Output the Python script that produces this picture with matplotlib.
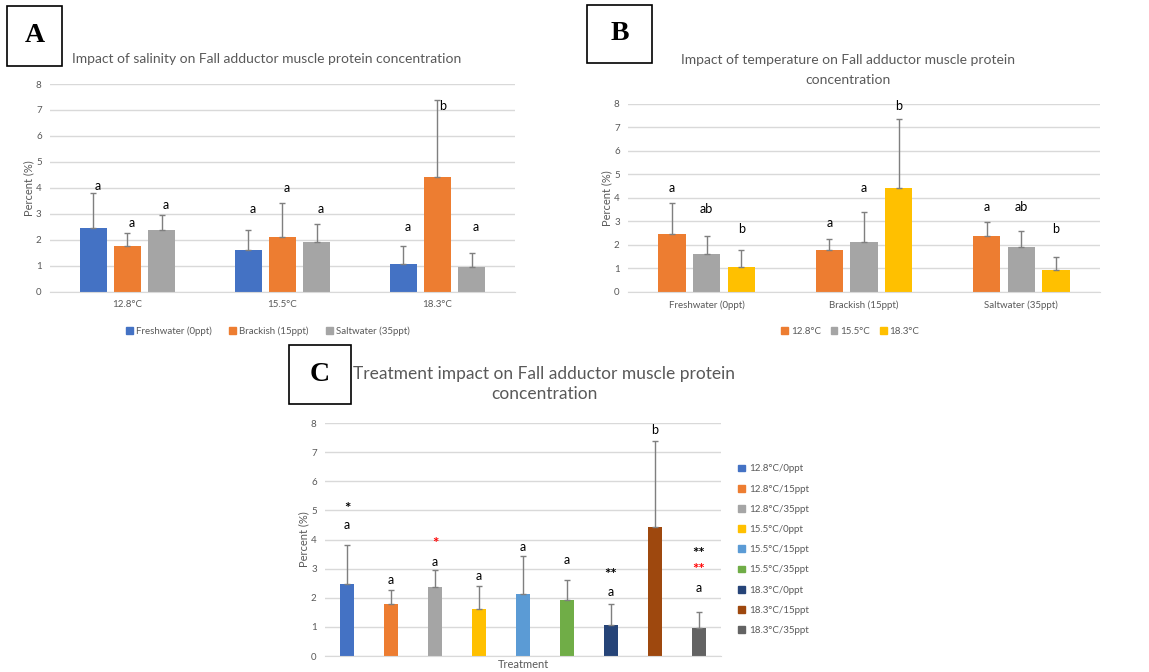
import matplotlib
matplotlib.use("Agg")
import matplotlib.pyplot as plt
from matplotlib.patches import Patch, Rectangle
import numpy as np

plt.rcParams["font.family"] = ["Lato", "DejaVu Sans"]

# Fall adductor muscle protein concentration (%), mean and upper SD
temps = ["12.8°C", "15.5°C", "18.3°C"]
salinities = ["Freshwater (0ppt)", "Brackish (15ppt)", "Saltwater (35ppt)"]
sal_short = ["0ppt", "15ppt", "35ppt"]

# rows: salinity, columns: temperature
mean_fresh = [2.47, 1.63, 1.07]
mean_brackish = [1.77, 2.13, 4.43]
mean_salt = [2.38, 1.93, 0.95]
sd_fresh = [1.33, 0.77, 0.70]
sd_brackish = [0.48, 1.29, 2.94]
sd_salt = [0.59, 0.67, 0.55]

# significance letters, panel A (per salinity, per temperature)
letters_a = [["a", "a", "a"], ["a", "a", "b"], ["a", "a", "a"]]
letter_y_a = [[4.06, 3.19, 2.49], [2.65, 4.0, 7.17], [3.33, 3.19, 2.49]]
# panel B (per temperature, per salinity)
letters_b = [["a", "a", "a"], ["ab", "a", "ab"], ["b", "b", "b"]]
letter_y_b = [[4.43, 2.94, 3.62], [3.53, 4.43, 3.62], [2.68, 7.93, 2.68]]
# panel C (per treatment)
letters_c = ["a", "a", "a", "a", "a", "a", "a", "b", "a"]
letter_y_c = [4.5, 2.62, 3.23, 2.75, 3.73, 3.28, 2.19, 7.75, 2.33]
# asterisk marks on panel C: (treatment index, text, y, colour)
stars_c = [(0, "*", 5.05, "black"), (2, "*", 3.85, "red"),
           (6, "**", 2.78, "black"), (8, "**", 2.95, "red"),
           (8, "**", 3.5, "black")]

means = np.array([mean_fresh, mean_brackish, mean_salt])
sds = np.array([sd_fresh, sd_brackish, sd_salt])

sal_colors = ["#4472C4", "#ED7D31", "#A5A5A5"]
temp_colors = ["#ED7D31", "#A5A5A5", "#FFC000"]
treat_colors = ["#4472C4", "#ED7D31", "#A5A5A5", "#FFC000", "#5B9BD5",
                "#70AD47", "#264478", "#9E480E", "#636363"]

TXT = "#595959"
GRID = "#D9D9D9"
ERR = "#7F7F7F"


def style_axes(ax):
    ax.set_ylim(0, 8)
    ax.set_yticks(range(0, 9))
    for s in ["top", "right", "left"]:
        ax.spines[s].set_visible(False)
    ax.spines["bottom"].set_color(GRID)
    ax.grid(axis="y", color=GRID, linewidth=1)
    ax.set_axisbelow(True)
    ax.tick_params(axis="both", length=0, labelsize=7, colors=TXT, pad=6)
    ax.set_ylabel("Percent (%)", fontsize=8, color=TXT, labelpad=1)


def panel_box(left, top, width, height, letter):
    # box given in pixels from the top-left corner
    W, H = 1149, 672
    x, y = left / W, 1 - (top + height) / H
    w, h = width / W, height / H
    fig.patches.append(Rectangle((x, y), w, h, transform=fig.transFigure,
                                 fill=False, edgecolor="black", linewidth=1.2))
    fig.text(x + w / 2, y + h / 2, letter, ha="center", va="center",
             fontsize=20, fontweight="bold", family="Liberation Serif")


fig = plt.figure(figsize=(11.49, 6.72), dpi=100)

# Panel A: grouped by temperature, one series per salinity
axA = fig.add_axes([0.0435, 0.5655, 0.4047, 0.3095])
x = np.arange(len(temps))
w, step = 0.174, 0.22
for i in range(3):
    xs = x + (i - 1) * step
    axA.bar(xs, means[i], w, color=sal_colors[i], label=salinities[i])
    axA.errorbar(xs, means[i], yerr=[np.zeros(3), sds[i]], fmt="none",
                 ecolor=ERR, elinewidth=1, capsize=2.5)
    for j in range(3):
        axA.text(xs[j] + 0.03, letter_y_a[i][j], letters_a[i][j], ha="center",
                 va="center", fontsize=9, color="black")
axA.set_xticks(x, temps)
axA.set_xlim(-0.5, 2.5)
style_axes(axA)
fig.text(0.232, 0.912, "Impact of salinity on Fall adductor muscle protein concentration",
         ha="center", va="center", fontsize=10, color=TXT)
fig.legend(handles=[Patch(color=c, label=l) for c, l in zip(sal_colors, salinities)],
           loc="center", bbox_to_anchor=(0.233, 0.507), ncol=3, frameon=False,
           fontsize=7, handlelength=0.7, handleheight=0.7, handletextpad=0.3,
           columnspacing=1.8, labelcolor=TXT)
panel_box(7, 6, 55, 60, "A")

# Panel B: grouped by salinity, one series per temperature
axB = fig.add_axes([0.5466, 0.5655, 0.4108, 0.2798])
for i in range(3):
    xs = x + (i - 1) * step
    axB.bar(xs, means[:, i], w, color=temp_colors[i], label=temps[i])
    axB.errorbar(xs, means[:, i], yerr=[np.zeros(3), sds[:, i]], fmt="none",
                 ecolor=ERR, elinewidth=1, capsize=2.5)
    for j in range(3):
        axB.text(xs[j], letter_y_b[i][j], letters_b[i][j], ha="center",
                 va="center", fontsize=9, color="black", clip_on=False)
axB.set_xticks(x, salinities)
axB.set_xlim(-0.5, 2.5)
style_axes(axB)
fig.text(0.738, 0.896, "Impact of temperature on Fall adductor muscle protein\nconcentration",
         ha="center", va="center", fontsize=10, color=TXT, linespacing=1.75)
fig.legend(handles=[Patch(color=c, label=l) for c, l in zip(temp_colors, temps)],
           loc="center", bbox_to_anchor=(0.74, 0.507), ncol=3, frameon=False,
           fontsize=7, handlelength=0.7, handleheight=0.7, handletextpad=0.3,
           columnspacing=1.0, labelcolor=TXT)
panel_box(587, 5, 65, 58, "B")

# Panel C: every temperature/salinity treatment as its own bar
treatments = [f"{t}/{s}" for t in temps for s in sal_short]
treat_means = means.T.ravel()
treat_sds = sds.T.ravel()
axC = fig.add_axes([0.2829, 0.0238, 0.3446, 0.3467])
xc = np.arange(len(treatments))
axC.bar(xc, treat_means, 0.32, color=treat_colors)
axC.errorbar(xc, treat_means, yerr=[np.zeros(len(xc)), treat_sds], fmt="none",
             ecolor=ERR, elinewidth=1, capsize=2.5)
for k in range(len(xc)):
    axC.text(xc[k], letter_y_c[k], letters_c[k], ha="center", va="center",
             fontsize=9, color="black")
for k, s, yv, c in stars_c:
    axC.text(xc[k], yv, s, ha="center", va="center", fontsize=11,
             color=c, fontweight="bold")
axC.set_xlim(-0.5, len(xc) - 0.5)
axC.set_xticks([])
style_axes(axC)
axC.set_xlabel("Treatment", fontsize=8, color=TXT, labelpad=2)
fig.text(0.4735, 0.429, "Treatment impact on Fall adductor muscle protein\nconcentration",
         ha="center", va="center", fontsize=12.5, color=TXT, linespacing=1.3)
fig.legend(handles=[Patch(color=c, label=l) for c, l in zip(treat_colors, treatments)],
           loc="center left", bbox_to_anchor=(0.635, 0.182), ncol=1, frameon=False,
           fontsize=7, handlelength=0.7, handleheight=0.7, handletextpad=0.4,
           labelspacing=1.15, labelcolor=TXT)
panel_box(289, 345, 62, 59, "C")

fig.savefig("out.png", dpi=100)
